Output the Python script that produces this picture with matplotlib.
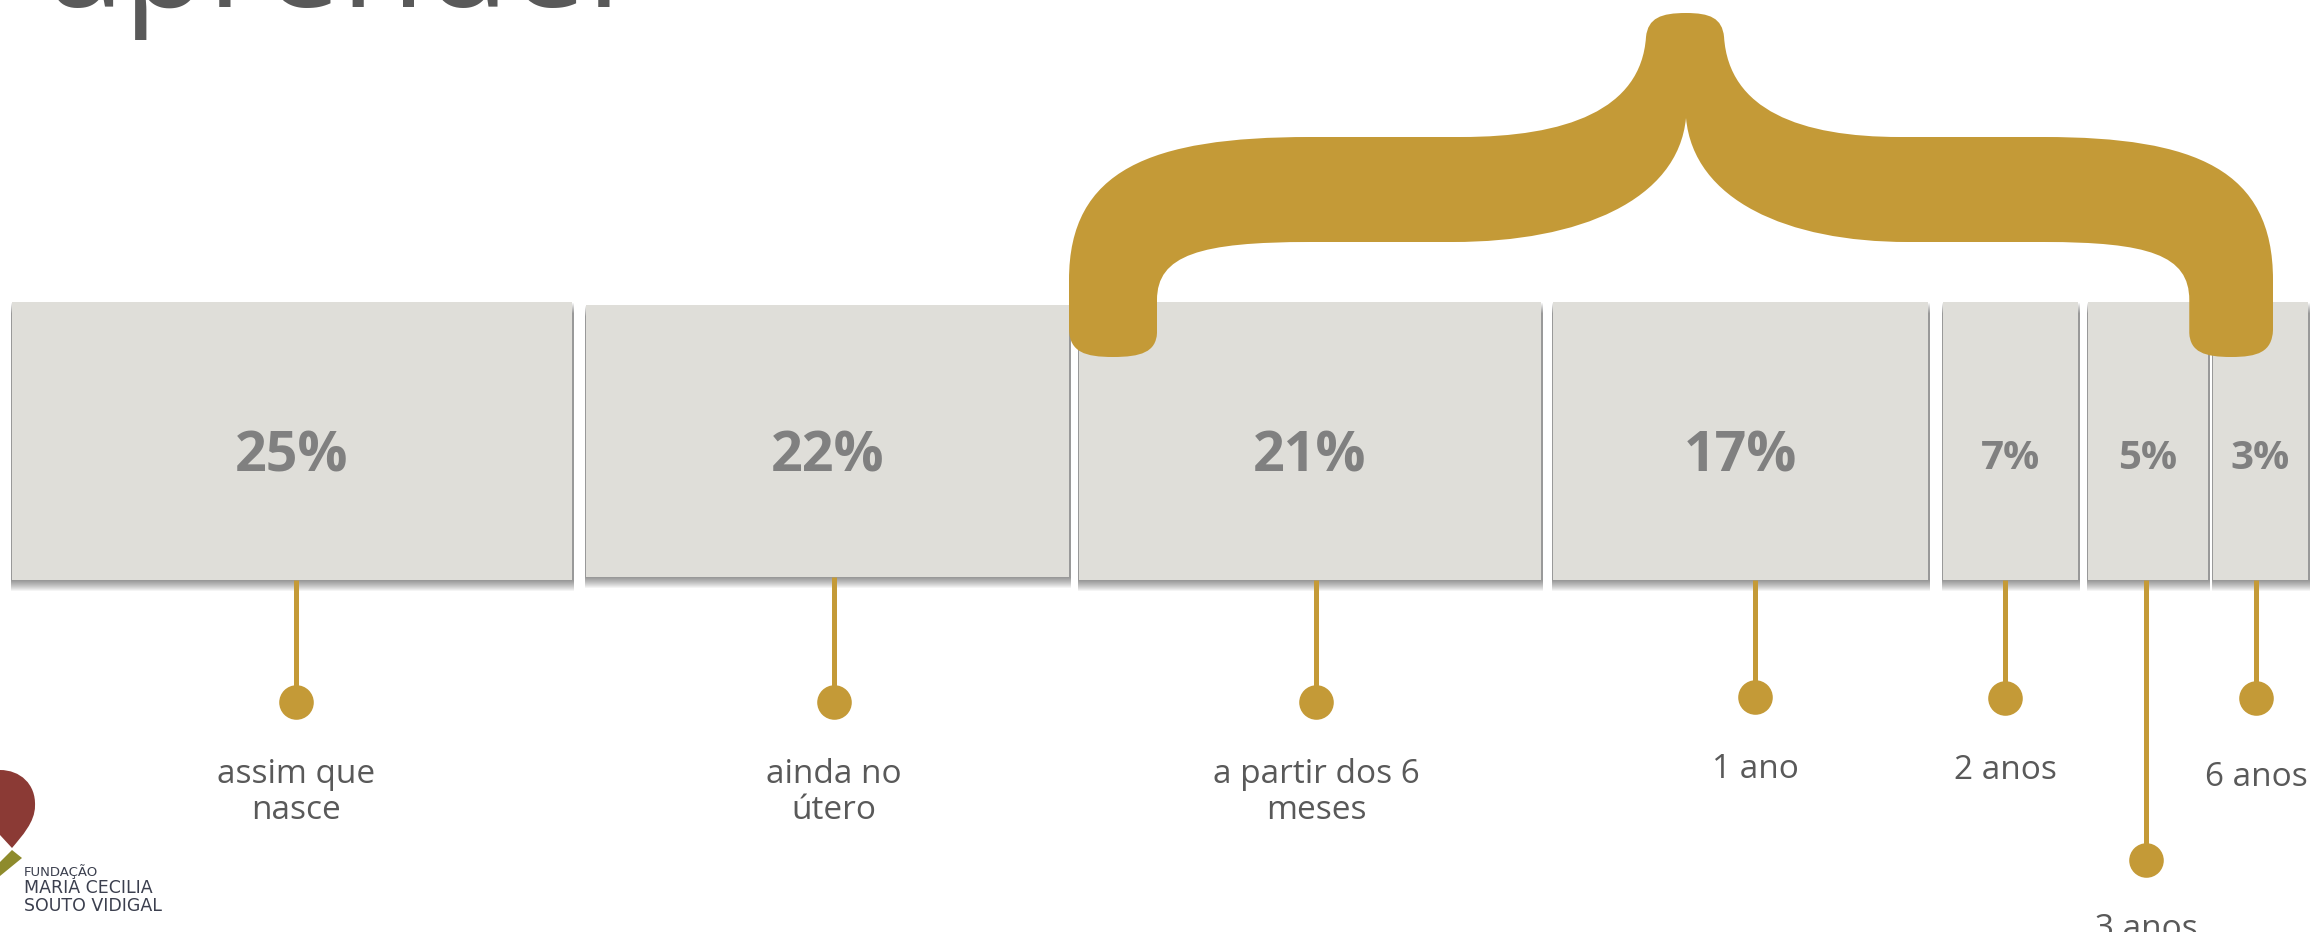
import matplotlib.pyplot as plt
from matplotlib.patches import PathPatch
from matplotlib.path import Path

# share of answers for the age at which a child starts to learn
categories = ["assim que\nnasce", "ainda no\nútero", "a partir dos 6\nmeses",
              "1 ano", "2 anos", "3 anos", "6 anos"]
values = [25, 22, 21, 17, 7, 5, 3]
pct_labels = [f"{v}%" for v in values]

title = "aprender"
logo_lines = ["FUNDAÇÃO", "MARIA CECILIA", "SOUTO VIDIGAL"]

# page layout in pixels (x to the right, y downwards)
W, H = 2315, 932
box_left = [12, 586, 1079, 1553, 1943, 2088, 2213]
box_w = [560, 483, 462, 375, 135, 120, 95]
box_top = [302, 305, 302, 302, 302, 302, 302]
box_bot = [580, 577, 580, 580, 580, 580, 580]
stem_x = [296, 834, 1316, 1755, 2005, 2146, 2256]
dot_y = [702, 702, 702, 697, 698, 860, 698]
label_y = [819, 819, 819, 778, 779, 938, 786]   # baseline of the last line
pct_y = [472, 472, 472, 472, 469, 469, 469]
pct_size = [40, 40, 40, 40, 29, 29, 29]

GOLD = "#C49A37"
BOX = "#DFDED9"
PCT = "#808080"
TXT = "#595959"

fig = plt.figure(figsize=(W / 100, H / 100), dpi=100)
ax = fig.add_axes([0, 0, 1, 1])
ax.set_xlim(0, W)
ax.set_ylim(H, 0)
ax.axis("off")

# title, mostly above the top edge
ax.text(48, 7, title, fontsize=99, family="Open Sans", color=TXT,
        ha="left", va="baseline")

# boxes with a soft drop shadow
heights = [b - t for t, b in zip(box_top, box_bot)]
for off in range(1, 12):
    ax.bar([x - 1.5 for x in box_left], heights, width=[w + 3 for w in box_w],
           bottom=[t + off for t in box_top], align="edge", color="black",
           alpha=0.045, linewidth=0, zorder=1)
ax.bar(box_left, heights, width=box_w, bottom=box_top, align="edge",
       color=BOX, linewidth=0, zorder=2)

for x, w, y, s, lab in zip(box_left, box_w, pct_y, pct_size, pct_labels):
    ax.text(x + w / 2, y, lab, fontsize=s, family="Open Sans",
            fontweight="bold", color=PCT, ha="center", va="baseline", zorder=4)

# stems, dots and labels under each box
for x, b, dy, ly, cat in zip(stem_x, box_bot, dot_y, label_y, categories):
    ax.plot([x, x], [b, dy], color=GOLD, lw=3.6, solid_capstyle="butt", zorder=3)
    ax.scatter([x], [dy], s=620, color=GOLD, linewidths=0, zorder=3)
    ax.text(x, ly, cat, fontsize=24, family="Open Sans", color=TXT,
            ha="center", va="baseline", linespacing=1.12)

# big curly brace over the boxes from "a partir dos 6 meses" onwards
cx = 1686
s_r = 587 / 617
half = [
    (Path.MOVETO, (0, 13)),
    (Path.CURVE4, (25, 13)), (Path.CURVE4, (38, 18)), (Path.CURVE4, (40, 37)),
    (Path.CURVE4, (45, 110)), (Path.CURVE4, (120, 137)), (Path.CURVE4, (225, 137)),
    (Path.LINETO, (376, 137)),
    (Path.CURVE4, (536, 137)), (Path.CURVE4, (617, 170)), (Path.CURVE4, (617, 280)),
    (Path.LINETO, (617, 330)),
    (Path.CURVE4, (616, 352)), (Path.CURVE4, (601, 357)), (Path.CURVE4, (573, 357)),
    (Path.CURVE4, (545, 357)), (Path.CURVE4, (530, 352)), (Path.CURVE4, (529, 333)),
    (Path.LINETO, (529, 300)),
    (Path.CURVE4, (529, 255)), (Path.CURVE4, (486, 242)), (Path.CURVE4, (376, 242)),
    (Path.LINETO, (233, 242)),
    (Path.CURVE4, (106, 242)), (Path.CURVE4, (8, 200)), (Path.CURVE4, (0, 118)),
]
codes = [c for c, _ in half]
pts = [p for _, p in half]
verts = [(cx - dx, y) for dx, y in pts]
all_codes = list(codes)
for i in range(len(pts) - 2, -1, -1):
    dx, y = pts[i]
    verts.append((cx + dx * s_r, y))
    all_codes.append(codes[i + 1])
verts.append((0, 0))
all_codes.append(Path.CLOSEPOLY)
ax.add_patch(PathPatch(Path(verts, all_codes), facecolor=GOLD,
                       edgecolor="none", zorder=5))

# foundation logo, bottom left
leaf = Path([(0, 770), (20, 770), (36, 784), (35, 806),
             (35, 822), (22, 836), (12, 848), (0, 835), (0, 770)],
            [Path.MOVETO, Path.CURVE4, Path.CURVE4, Path.CURVE4,
             Path.CURVE4, Path.CURVE4, Path.CURVE4, Path.LINETO, Path.CLOSEPOLY])
ax.add_patch(PathPatch(leaf, facecolor="#8B3A35", edgecolor="none"))
ax.add_patch(plt.Polygon([(12, 850), (22, 858), (0, 876), (0, 862)],
                         facecolor="#8E8B2C", edgecolor="none"))
for yy, line, fs in zip([876, 893, 911], logo_lines, [9.5, 12.5, 12.5]):
    ax.text(24, yy, line, fontsize=fs, family="DejaVu Sans", color="#3B3F4E",
            ha="left", va="baseline")

fig.savefig("out.png", dpi=100, facecolor="white")
